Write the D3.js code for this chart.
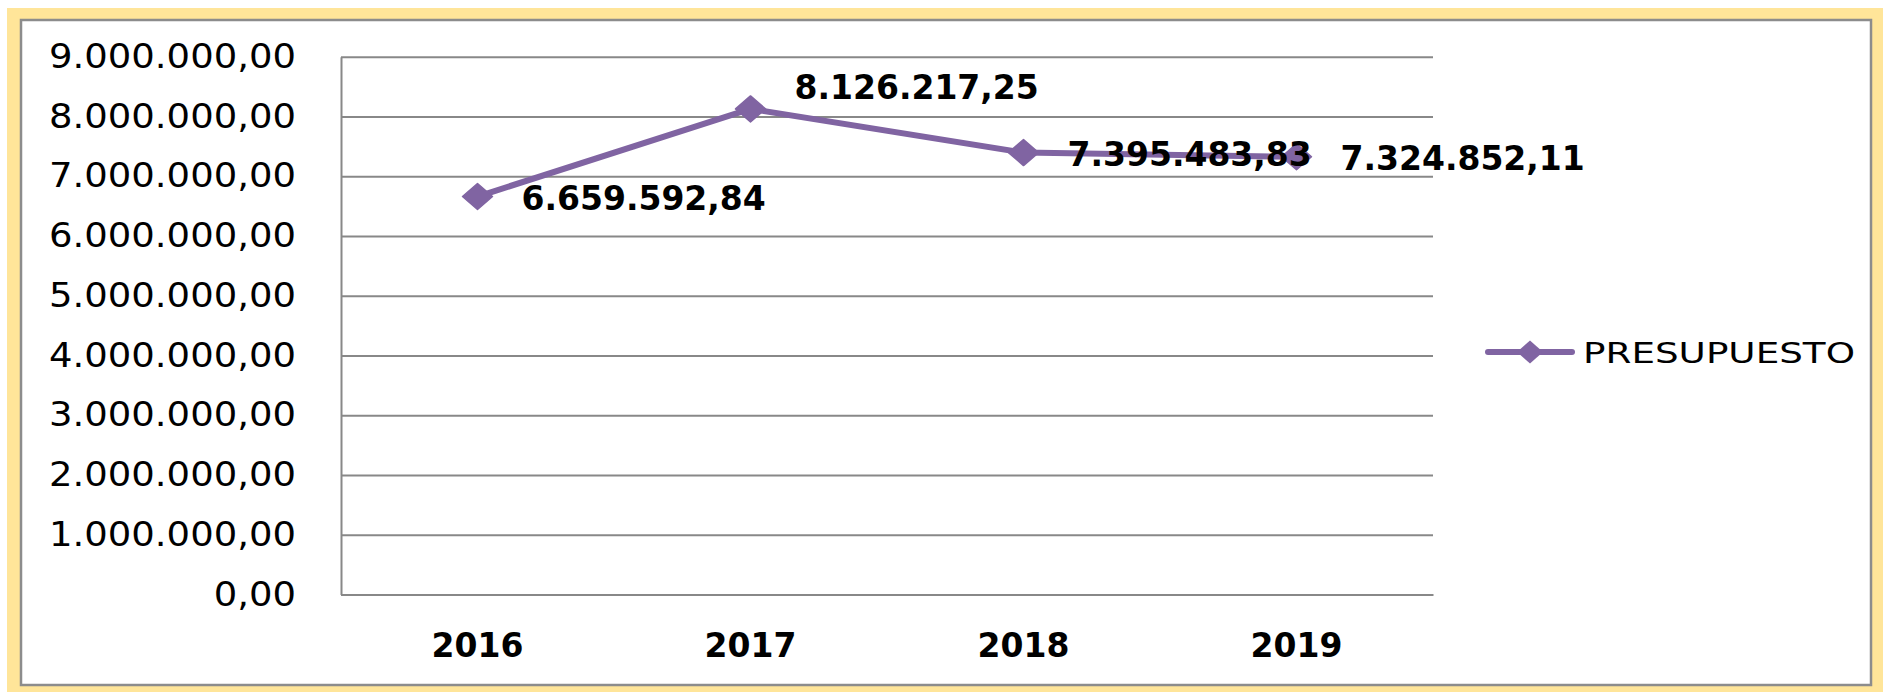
<!DOCTYPE html>
<html>
<head>
<meta charset="utf-8">
<script src="https://cdn.jsdelivr.net/npm/d3@7"></script>
<style>
  html, body { margin: 0; padding: 0; background: #fff; }
  svg { display: block; }
</style>
</head>
<body>
<svg id="chart"></svg>
<script>
// chart data
const years = ['2016', '2017', '2018', '2019'];
const presupuesto = [6659592.84, 8126217.25, 7395483.83, 7324852.11];
const yTicks = [0, 1000000, 2000000, 3000000, 4000000, 5000000, 6000000, 7000000, 8000000, 9000000];
const seriesName = 'PRESUPUESTO';

const dim = { width: 1883, height: 692 };

// plot area
const plot = { left: 341, right: 1433, top: 56.7, bottom: 594.5 };
const purple = '#8064a2';
const gridColor = '#888888';

// es-ES style number format: 7.324.852,11
const locale = d3.formatLocale({ decimal: ',', thousands: '.', grouping: [3], currency: ['', ''] });
const fmt = locale.format(',.2f');

const svg = d3.select('#chart')
  .attr('width', dim.width)
  .attr('height', dim.height);

// frame: yellow outer band and gray inner border
svg.append('rect')
  .attr('x', 7).attr('y', 8)
  .attr('width', dim.width - 7).attr('height', dim.height - 8)
  .attr('fill', '#ffe599');
svg.append('rect')
  .attr('x', 21).attr('y', 20)
  .attr('width', 1850).attr('height', 665)
  .attr('fill', '#fff')
  .attr('stroke', '#8c8c8c')
  .attr('stroke-width', 2.5);

const x = d3.scaleBand()
  .domain(years)
  .range([plot.left, plot.right]);

const y = d3.scaleLinear()
  .domain([0, 9000000])
  .range([plot.bottom, plot.top]);

// y axis with gridlines
const yAxis = svg.append('g')
  .attr('transform', `translate(${plot.left},0)`)
  .call(d3.axisLeft(y)
    .tickValues(yTicks)
    .tickSize(-(plot.right - plot.left))
    .tickSizeOuter(0)
    .tickPadding(45)
    .tickFormat(fmt));
yAxis.selectAll('line').attr('stroke', gridColor).attr('stroke-width', 2);
yAxis.select('.domain').attr('stroke', gridColor).attr('stroke-width', 2);
yAxis.selectAll('text')
  .attr('font-family', 'DejaVu Sans, Verdana, sans-serif')
  .attr('font-size', 33)
  .attr('fill', '#000');

// the source labels are a bit wider than the font, stretch them so the
// widest one is ~247px
const widest = d3.max(yAxis.selectAll('text').nodes(), n => n.getComputedTextLength());
const stretch = 247 / widest;
yAxis.selectAll('text').each(function () {
  const len = this.getComputedTextLength();
  d3.select(this)
    .attr('textLength', len * stretch)
    .attr('lengthAdjust', 'spacingAndGlyphs');
});

// x axis
const xAxis = svg.append('g')
  .attr('transform', `translate(0,${plot.bottom})`)
  .call(d3.axisBottom(x)
    .tickSize(0)
    .tickSizeOuter(0)
    .tickPadding(39));
xAxis.select('.domain').attr('stroke', gridColor).attr('stroke-width', 2);
xAxis.selectAll('text')
  .attr('font-family', 'DejaVu Sans, Verdana, sans-serif')
  .attr('font-weight', 'bold')
  .attr('font-size', 33)
  .attr('fill', '#000');

const cx = (d, i) => x(years[i]) + x.bandwidth() / 2;
const diamond = (w, h) => `M0,${-h}L${w},0L0,${h}L${-w},0Z`;

// series line
const line = d3.line()
  .x((d, i) => cx(d, i))
  .y(d => y(d));

svg.append('path')
  .datum(presupuesto)
  .attr('d', line)
  .attr('fill', 'none')
  .attr('stroke', purple)
  .attr('stroke-width', 6)
  .attr('stroke-linejoin', 'round');

svg.selectAll('.marker')
  .data(presupuesto)
  .join('path')
  .attr('class', 'marker')
  .attr('transform', (d, i) => `translate(${cx(d, i)},${y(d)})`)
  .attr('d', diamond(15, 13))
  .attr('fill', purple)
  .attr('stroke', purple)
  .attr('stroke-width', 1.5)
  .attr('stroke-linejoin', 'round');

// data labels, right of the point (the peak one sits higher)
const labelLift = [0, 23, 0, 0];
svg.selectAll('.data-label')
  .data(presupuesto)
  .join('text')
  .attr('class', 'data-label')
  .attr('x', (d, i) => cx(d, i) + 44)
  .attr('y', (d, i) => y(d) + 13 - labelLift[i])
  .attr('font-family', 'DejaVu Sans, Verdana, sans-serif')
  .attr('font-weight', 'bold')
  .attr('font-size', 33)
  .attr('fill', '#000')
  .text(d => fmt(d));

// legend
const legend = svg.append('g').attr('transform', 'translate(1488,352)');
legend.append('line')
  .attr('x1', 0).attr('x2', 84)
  .attr('stroke', purple)
  .attr('stroke-width', 6)
  .attr('stroke-linecap', 'round');
legend.append('path')
  .attr('transform', 'translate(42,0)')
  .attr('d', diamond(13, 11.5))
  .attr('fill', purple);
legend.append('text')
  .attr('x', 95)
  .attr('y', 11)
  .attr('font-family', 'DejaVu Sans, Verdana, sans-serif')
  .attr('font-size', 29)
  .attr('textLength', 272)
  .attr('lengthAdjust', 'spacingAndGlyphs')
  .attr('fill', '#000')
  .text(seriesName);
</script>
</body>
</html>
